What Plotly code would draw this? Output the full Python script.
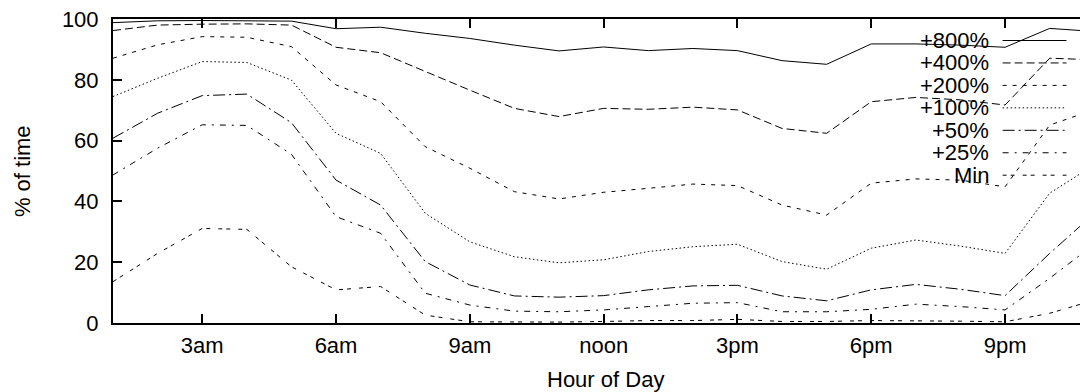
import plotly.graph_objects as go

hours = list(range(1, 24))
series_names = ["+800%", "+400%", "+200%", "+100%", "+50%", "+25%", "Min"]

p800 = [98.8, 99.4, 99.5, 99.5, 99.3, 96.8, 97.3, 95.3, 93.6, 91.4, 89.5, 90.8,
        89.6, 90.3, 89.6, 86.3, 85.1, 91.8, 91.8, 91.4, 90.7, 96.9, 95.9]
p400 = [96.2, 98.0, 98.3, 98.4, 98.0, 90.7, 88.9, 82.7, 76.6, 70.6, 67.9, 70.6,
        70.3, 71.0, 70.1, 64.0, 62.4, 72.8, 74.2, 73.4, 71.7, 87.1, 86.6]
p200 = [87.1, 91.5, 94.2, 94.0, 90.9, 78.3, 72.8, 58.0, 50.9, 43.2, 40.8, 43.0,
        44.3, 45.7, 45.2, 38.8, 35.5, 46.0, 47.4, 47.0, 44.8, 65.1, 70.2]
p100 = [74.5, 80.5, 86.0, 85.7, 79.9, 62.4, 55.8, 36.1, 26.7, 21.8, 19.8, 20.8,
        23.5, 25.1, 25.9, 20.2, 17.7, 24.6, 27.3, 25.3, 22.9, 42.7, 52.0]
p50 = [60.8, 69.0, 74.8, 75.3, 65.9, 47.0, 38.8, 20.2, 12.5, 8.9, 8.5, 9.0,
       10.9, 12.2, 12.4, 8.9, 7.3, 10.9, 12.7, 11.1, 9.0, 22.9, 36.0]
p25 = [48.7, 57.5, 65.2, 65.0, 55.5, 35.0, 29.5, 9.8, 5.9, 3.9, 3.7, 4.3,
       5.4, 6.5, 6.7, 3.7, 3.7, 4.5, 6.2, 5.4, 4.3, 14.7, 25.9]
pmin = [13.6, 22.9, 31.1, 30.8, 18.5, 10.9, 12.0, 2.6, 0.4, 0.3, 0.3, 0.5,
        0.8, 0.8, 1.2, 0.5, 0.5, 0.8, 0.8, 0.6, 0.4, 3.2, 7.5]

tick_vals = [3, 6, 9, 12, 15, 18, 21]
tick_text = ["3am", "6am", "9am", "noon", "3pm", "6pm", "9pm"]
y_ticks = [0, 20, 40, 60, 80, 100]

values = [p800, p400, p200, p100, p50, p25, pmin]
dashes = ["solid", "8px,4px", "4px,6px", "1.5px,2.5px", "12px,4px,2px,4px",
          "6px,6px,2px,6px", "4px,4px,4px,8px"]

FONT = "Liberation Sans, Arial, sans-serif"
FS = 22
fig = go.Figure()
for name, vals, d in zip(series_names, values, dashes):
    fig.add_trace(go.Scatter(x=hours, y=vals, mode="lines", name=name,
                             line=dict(color="black", width=1, dash=d),
                             showlegend=False))

# manual gnuplot-style legend: text right-aligned, sample on the right
shapes = []
annotations = []
top_px, plot_h = 19, 304
for i, (name, d) in enumerate(zip(series_names, dashes)):
    ypx = 40.5 + 22.45 * i
    yp = (top_px + plot_h - ypx) / plot_h
    annotations.append(dict(x=0.907, y=yp, xref="paper", yref="paper",
                            text=name, showarrow=False, xanchor="right",
                            yanchor="middle", borderpad=0,
                            font=dict(size=FS, color="black", family=FONT)))
    shapes.append(dict(type="line", xref="paper", yref="paper",
                       x0=0.920, x1=0.986, y0=yp, y1=yp,
                       line=dict(color="black", width=1, dash=d)))

annotations.append(dict(x=0.5088, y=-0.187, xref="paper", yref="paper",
                        text="Hour of Day", showarrow=False, xanchor="center",
                        yanchor="middle", font=dict(size=FS, color="black", family=FONT)))
annotations.append(dict(x=-0.094, y=0.5, xref="paper", yref="paper",
                        text="% of time", showarrow=False, textangle=-90,
                        xanchor="center", yanchor="middle",
                        font=dict(size=FS, color="black", family=FONT)))

fig.update_layout(
    width=1080, height=392,
    margin=dict(l=113, r=0, t=19, b=69),
    paper_bgcolor="white", plot_bgcolor="white",
    font=dict(family=FONT, size=FS, color="black"),
    shapes=shapes, annotations=annotations,
    showlegend=False,
)
fig.update_xaxes(range=[1, 22.68], tickmode="array", tickvals=tick_vals,
                 ticktext=tick_text, ticks="inside", ticklen=9, tickwidth=1.5,
                 tickcolor="black", showline=True, linecolor="black", linewidth=2,
                 mirror="ticks", showgrid=False, zeroline=False,
                 tickfont=dict(size=FS, family=FONT), ticklabelstandoff=2)
fig.update_yaxes(range=[0, 100], tickmode="array", tickvals=y_ticks,
                 ticks="inside", ticklen=9, tickwidth=1.5, tickcolor="black",
                 showline=True, linecolor="black", linewidth=2, mirror=False,
                 showgrid=False, zeroline=False,
                 tickfont=dict(size=FS, family=FONT), ticklabelstandoff=8)

fig.write_html("out.html")
